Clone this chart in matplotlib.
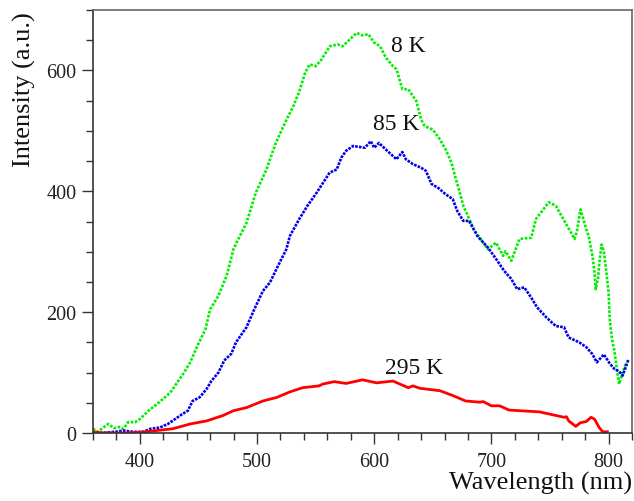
import matplotlib
matplotlib.use("Agg")
import matplotlib.pyplot as plt
from matplotlib.ticker import MultipleLocator

# ---- data ----
wl_8K = [360, 364, 373, 378, 382, 386, 390, 396, 400, 408, 416, 426, 437, 443, 449, 456, 460, 467,
         474, 480, 491, 499, 508, 516, 525, 531, 536, 541, 545, 550, 555, 562, 569, 573, 579, 585,
         590, 595, 600, 605, 610, 616, 619, 624, 629, 636, 640, 643, 650, 656, 661, 666, 669, 673,
         676, 680, 685, 693, 697, 704, 710, 712, 717, 724, 728, 734, 738, 749, 755, 771, 773, 776,
         778, 781, 783, 786, 788, 789, 791, 792, 794, 796, 798, 800, 801, 803, 805, 807, 809, 812, 815]
int_8K = [7, 2, 15, 8, 10, 7, 18, 18, 23, 38, 50, 67, 98, 117, 144, 172, 205, 227,
          260, 305, 348, 398, 436, 480, 518, 541, 565, 596, 610, 607, 618, 640, 643, 640, 651, 662,
          658, 660, 646, 640, 621, 607, 602, 569, 569, 549, 519, 508, 502, 486, 469, 447, 425, 398,
          376, 359, 337, 315, 304, 315, 293, 301, 285, 321, 322, 323, 354, 382, 376, 321, 334, 370,
          357, 337, 326, 296, 266, 238, 255, 279, 312, 301, 268, 233, 188, 155, 136, 106, 81, 100, 117]

wl_85K = [366, 379, 386, 394, 403, 409, 417, 424, 430, 436, 441, 445, 451, 457, 461, 467, 472, 478,
          482, 491, 497, 505, 511, 518, 525, 528, 536, 543, 551, 562, 568, 572, 576, 582, 592, 597,
          600, 604, 610, 619, 624, 627, 633, 640, 644, 649, 655, 661, 667, 671, 676, 681, 688, 697,
          704, 711, 717, 722, 728, 734, 739, 747, 755, 762, 766, 775, 781, 786, 790, 796, 801, 805,
          809, 812, 817]
int_85K = [0, 2, 4, 2, 2, 7, 9, 15, 23, 31, 37, 53, 59, 73, 86, 100, 120, 131,
           150, 175, 202, 235, 249, 277, 304, 326, 354, 376, 398, 431, 436, 456, 467, 475, 472, 483,
           472, 480, 469, 453, 465, 453, 445, 439, 434, 412, 405, 395, 387, 367, 351, 351, 326, 307,
           288, 268, 255, 238, 241, 224, 208, 191, 177, 175, 158, 150, 142, 131, 117, 130, 115, 106,
           102, 95, 122]

wl_295K = [360, 369, 386, 400, 414, 428, 443, 457, 471, 480, 491, 505, 517, 528, 539, 553, 556, 566,
           576, 590, 602, 616, 629, 633, 639, 656, 667, 678, 690, 693, 700, 707, 715, 732, 741, 755,
           762, 764, 766, 772, 776, 781, 785, 788, 792, 795, 799]
int_295K = [2, 0, 0, 1, 4, 7, 15, 20, 29, 37, 42, 53, 59, 68, 75, 78, 81, 85,
            82, 88, 83, 86, 75, 78, 74, 70, 62, 53, 51, 52, 45, 45, 38, 36, 35, 29,
            26, 27, 20, 11, 17, 19, 26, 23, 9, 2, 2]

labels = ["8 K", "85 K", "295 K"]
label_x = [629, 619, 634]
label_y = [642, 512, 109]

# ---- figure ----
plt.rcParams['font.family'] = ['Liberation Serif', 'DejaVu Serif']
fig = plt.figure(figsize=(6.34, 5.02), dpi=100)
ax = fig.add_axes([93/634, 68/502, (632-93)/634, (434-11)/502])

ax.plot(wl_8K, int_8K, color='#00ee00', lw=1.9, linestyle=(0, (1, 0.6)))
ax.plot(wl_85K, int_85K, color='#0000ee', lw=1.9, linestyle=(0, (1, 0.45)))
ax.plot(wl_295K, int_295K, color='#ff0000', lw=2.0, solid_joinstyle='round')

for t, x, y in zip(labels, label_x, label_y):
    ax.text(x, y, t, ha='center', va='center', fontsize=17, color='#111111')

ax.set_xlim(360, 820)
ax.set_ylim(0, 700)
ax.xaxis.set_major_locator(MultipleLocator(100))
ax.xaxis.set_minor_locator(MultipleLocator(20))
ax.yaxis.set_major_locator(MultipleLocator(200))
ax.yaxis.set_minor_locator(MultipleLocator(50))
ax.tick_params(which='major', direction='out', length=8, width=1, color='#333333',
               labelsize=14.5, labelcolor='#222222', pad=4)
ax.tick_params(which='minor', direction='out', length=5, width=1, color='#333333')
ax.tick_params(axis='x', which='major', pad=6)
ax.tick_params(top=False, right=False)

for s in ['left', 'bottom']:
    ax.spines[s].set_color('#333333')
    ax.spines[s].set_linewidth(1.2)
for s in ['top', 'right']:
    ax.spines[s].set_color('#666666')
    ax.spines[s].set_linewidth(1.2)

fig.text(632/634, 1 - 483/502, "Wavelength (nm)", ha='right', va='center', fontsize=19, color='#111111')
fig.text(24/634, 1 - 12/502, "Intensity (a.u.)", ha='center', va='top', rotation=90, fontsize=19, color='#111111')

fig.savefig("out.png", dpi=100)
